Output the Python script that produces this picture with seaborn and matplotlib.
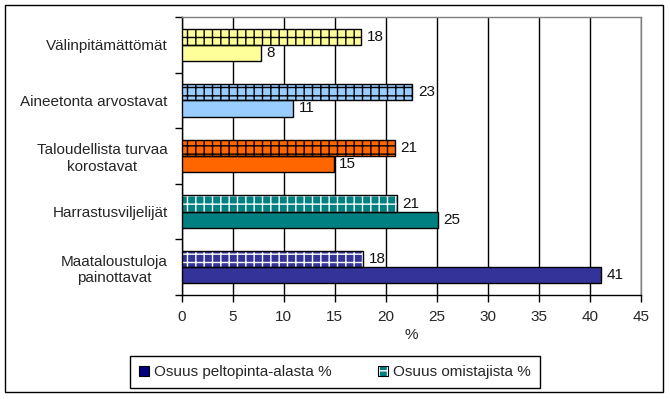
import pandas as pd
import matplotlib
matplotlib.use("Agg")
import matplotlib.pyplot as plt
import seaborn as sns
from matplotlib.patches import Patch, Rectangle

# === data ===
kategoriat = ["Välinpitämättömät", "Aineetonta arvostavat",
              "Taloudellista turvaa\nkorostavat", "Harrastusviljelijät",
              "Maataloustuloja\npainottavat"]
omistajista = [17.6, 22.6, 20.9, 21.1, 17.8]
peltopinta = [7.8, 10.9, 14.9, 25.1, 41.1]
sarjat = ["Osuus omistajista %", "Osuus peltopinta-alasta %"]

varit = ["#FFFF99", "#99CCFF", "#FF6600", "#008080", "#333399"]
hatch_varit = ["black", "black", "black", "white", "white"]

df = pd.DataFrame({
    "ryhma": kategoriat * 2,
    "sarja": [sarjat[0]] * len(kategoriat) + [sarjat[1]] * len(kategoriat),
    "arvo": omistajista + peltopinta,
})

sns.set_style("white")
plt.rcParams["font.family"] = ["Liberation Sans", "DejaVu Sans"]
plt.rcParams["hatch.linewidth"] = 1.0

fig = plt.figure(figsize=(6.70, 3.99), dpi=100)
ax = fig.add_axes([181.7 / 670, 1 - 295 / 399, (641 - 181.7) / 670, (295 - 17) / 399])

sns.barplot(data=df, y="ryhma", x="arvo", hue="sarja", hue_order=sarjat,
            order=kategoriat, orient="h", width=0.58, errorbar=None,
            edgecolor="black", linewidth=1, ax=ax, legend=False, zorder=3)

# === värit ja kuviot ===
for i, bar in enumerate(ax.containers[0]):
    bar.set_facecolor(varit[i])
    bar.set_edgecolor(hatch_varit[i])
    bar.set_hatch("++")
    bar.set_linewidth(0)
    ax.add_patch(Rectangle(bar.get_xy(), bar.get_width(), bar.get_height(),
                           fill=False, edgecolor="black", lw=1, zorder=4))
for i, bar in enumerate(ax.containers[1]):
    bar.set_facecolor(varit[i])
    bar.set_edgecolor("black")

for cont in ax.containers:
    ax.bar_label(cont, fmt="{:.0f}", padding=4, fontsize=11, color="#111111")

# === akselit ===
ax.set_xlim(0, 45)
ax.set_xticks(range(0, 50, 5))
ax.set_ylim(len(kategoriat) - 0.5, -0.5)
ax.set_yticks([i + 0.5 for i in range(-1, len(kategoriat))], minor=True)
ax.tick_params(axis="y", which="major", left=True, length=0, pad=10, labelsize=11)
ax.tick_params(axis="y", which="minor", left=True, length=5, width=1,
               direction="out", color="black")
ax.tick_params(axis="x", which="major", bottom=True, length=5, width=1,
               direction="out", color="black", labelsize=11, pad=6)
for lab in ax.get_yticklabels():
    lab.set_multialignment("center")
ax.set_ylabel("")
ax.set_xlabel("%", fontsize=11, labelpad=3)
ax.grid(axis="x", color="black", lw=1, zorder=0)
ax.set_axisbelow(True)
for s in ["left", "bottom"]:
    ax.spines[s].set_color("black")
    ax.spines[s].set_linewidth(1)
for s in ["top", "right"]:
    ax.spines[s].set_color("#808080")
    ax.spines[s].set_linewidth(1)

# === selite ===
h1 = Patch(facecolor="#000080", edgecolor="black", lw=0.8)
h2 = (Patch(facecolor="#008080", edgecolor="white", hatch="++", lw=0),
      Patch(fill=False, edgecolor="black", lw=0.8))
fig.legend([h1, h2], [sarjat[1], sarjat[0]], loc="center",
           bbox_to_anchor=(335 / 670, 1 - 372 / 399), ncol=2, fontsize=11,
           frameon=True, fancybox=False, edgecolor="black", framealpha=1,
           handlelength=0.65, handleheight=0.65, handletextpad=0.35,
           columnspacing=3.0, borderpad=0.6)

fig.patches.append(Rectangle((5 / 670, 1 - 392 / 399), 658 / 670, 387 / 399,
                             transform=fig.transFigure, fill=False,
                             edgecolor="black", lw=1))

fig.savefig("out.png", dpi=100)
